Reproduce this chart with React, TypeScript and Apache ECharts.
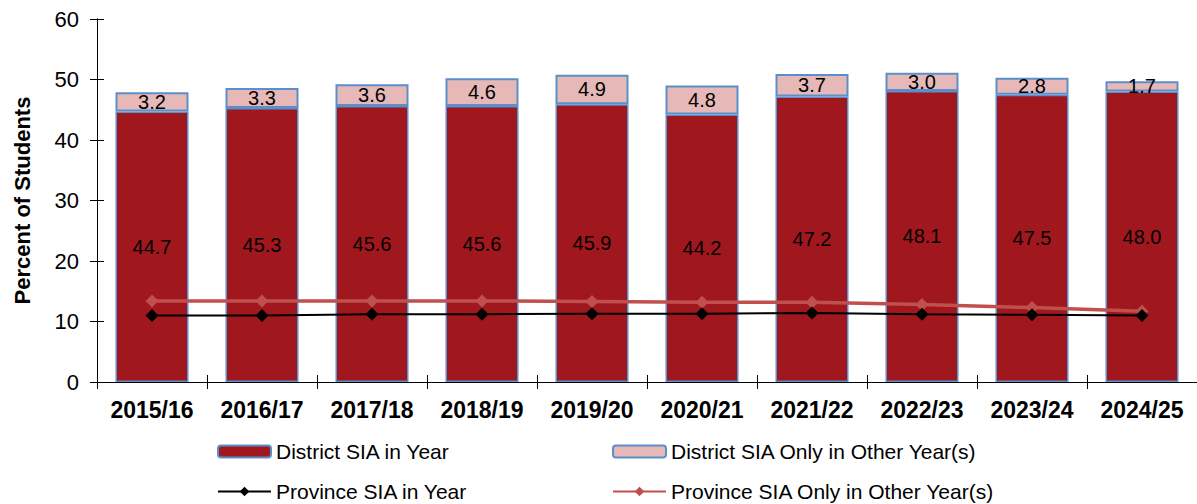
import React, { useEffect, useRef } from "react";
import * as echarts from "echarts";

const categories = ["2015/16", "2016/17", "2017/18", "2018/19", "2019/20", "2020/21", "2021/22", "2022/23", "2023/24", "2024/25"];
const districtInYear = [44.7, 45.3, 45.6, 45.6, 45.9, 44.2, 47.2, 48.1, 47.5, 48.0];
const districtOther = [3.2, 3.3, 3.6, 4.6, 4.9, 4.8, 3.7, 3.0, 2.8, 1.7];
const provinceInYear = [11.0, 11.0, 11.2, 11.2, 11.3, 11.3, 11.4, 11.2, 11.1, 11.0];
const provinceOther = [13.4, 13.4, 13.4, 13.4, 13.3, 13.2, 13.2, 12.8, 12.3, 11.7];
const yTicks = [0, 10, 20, 30, 40, 50, 60];

const FONT = "Liberation Sans";

export default function App() {
  const ref = useRef<HTMLDivElement>(null);
  useEffect(() => {
    const chart = echarts.init(ref.current!, null, { renderer: "svg" });
    const axisLine = { show: true, lineStyle: { color: "#000", width: 1 } };
    const tick = (inside: boolean) => ({ show: true, inside, length: 7, lineStyle: { color: "#000", width: 1 } });
    const legendText = { fontSize: 21, color: "#000", fontFamily: FONT };
    const mkLegend = (name: string, left: number, top: number) => ({
      left,
      top,
      padding: 0,
      itemWidth: 53,
      itemHeight: 12,
      textStyle: legendText,
      data: [name],
    });
    const fmt = (p: any) => Number(p.value).toFixed(1);
    chart.setOption({
      animation: false,
      textStyle: { fontFamily: FONT },
      grid: { left: 97, width: 1103, top: 19, bottom: 122, containLabel: false },
      xAxis: [
        {
          type: "category",
          data: categories,
          axisLine,
          axisTick: tick(false),
          axisLabel: { color: "#000", fontSize: 23, fontWeight: "bold", fontFamily: FONT, margin: 16 },
        },
        {
          type: "category",
          data: categories,
          position: "bottom",
          axisLine,
          axisTick: tick(true),
          axisLabel: { show: false },
        },
      ],
      yAxis: [
        {
          type: "value",
          min: yTicks[0],
          max: yTicks[yTicks.length - 1],
          interval: 10,
          axisLine,
          axisTick: tick(false),
          splitLine: { show: false },
          axisLabel: { color: "#000", fontSize: 22, fontFamily: FONT, margin: 18 },
          name: "Percent of Students",
          nameLocation: "middle",
          nameGap: 64,
          nameTextStyle: { color: "#000", fontSize: 22, fontWeight: "bold", fontFamily: FONT },
        },
        {
          type: "value",
          min: yTicks[0],
          max: yTicks[yTicks.length - 1],
          interval: 10,
          position: "left",
          axisLine,
          axisTick: tick(true),
          splitLine: { show: false },
          axisLabel: { show: false },
        },
      ],
      legend: [
        mkLegend("District SIA in Year", 217, 441),
        mkLegend("Province SIA in Year", 217, 481),
        mkLegend("District SIA Only in Other Year(s)", 612, 441),
        mkLegend("Province SIA Only in Other Year(s)", 612, 481),
      ],
      series: [
        {
          name: "District SIA in Year",
          type: "bar",
          stack: "d",
          barWidth: 73,
          data: districtInYear,
          itemStyle: { color: "#a0171d", borderColor: "#5b8fcb", borderWidth: 1.5 },
          label: { show: true, position: "inside", color: "#000", fontSize: 20, fontFamily: FONT, formatter: fmt },
        },
        {
          name: "District SIA Only in Other Year(s)",
          type: "bar",
          stack: "d",
          barWidth: 73,
          data: districtOther,
          itemStyle: { color: "#e6b8b7", borderColor: "#5b8fcb", borderWidth: 2 },
          label: { show: true, position: "inside", color: "#000", fontSize: 20, fontFamily: FONT, formatter: fmt },
        },
        {
          name: "Province SIA in Year",
          type: "line",
          data: provinceInYear,
          symbol: "diamond",
          symbolSize: 13,
          z: 5,
          lineStyle: { color: "#000", width: 2 },
          itemStyle: { color: "#000" },
        },
        {
          name: "Province SIA Only in Other Year(s)",
          type: "line",
          data: provinceOther,
          symbol: "diamond",
          symbolSize: 13,
          z: 4,
          lineStyle: { color: "#c0504d", width: 3.5 },
          itemStyle: { color: "#c0504d" },
        },
      ],
    });
    return () => chart.dispose();
  }, []);
  return <div ref={ref} style={{ width: 1197, height: 504, position: "absolute", left: 0, top: 0 }} />;
}
